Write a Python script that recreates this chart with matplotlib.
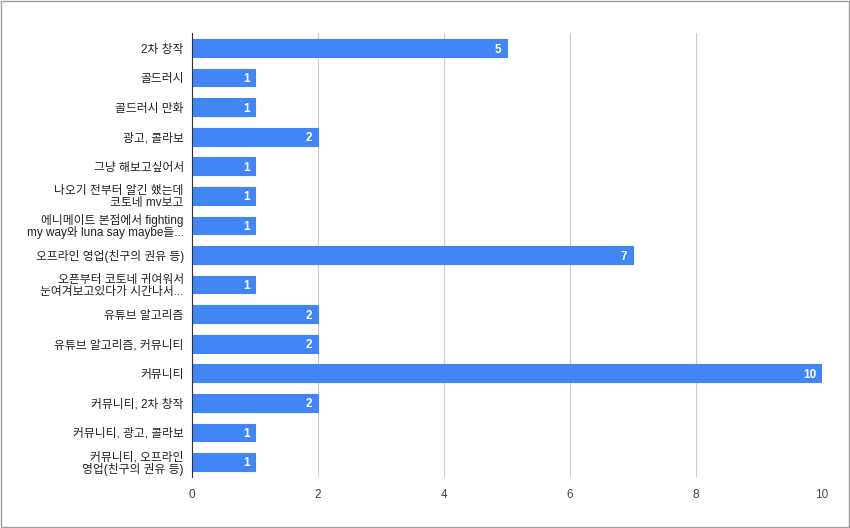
import matplotlib
matplotlib.use("Agg")
import matplotlib.pyplot as plt

plt.rcParams['font.family'] = ['Liberation Sans', 'Noto Sans CJK KR', 'DejaVu Sans']

categories = [
    "2차 창작",
    "골드러시",
    "골드러시 만화",
    "광고, 콜라보",
    "그냥 해보고싶어서",
    "나오기 전부터 알긴 했는데\n코토네 mv보고",
    "에니메이트 본점에서 fighting\nmy way와 luna say maybe들...",
    "오프라인 영업(친구의 권유 등)",
    "오픈부터 코토네 귀여워서\n눈여겨보고있다가 시간나서...",
    "유튜브 알고리즘",
    "유튜브 알고리즘, 커뮤니티",
    "커뮤니티",
    "커뮤니티, 2차 창작",
    "커뮤니티, 광고, 콜라보",
    "커뮤니티, 오프라인\n영업(친구의 권유 등)",
]
counts = [5, 1, 1, 2, 1, 1, 1, 7, 1, 2, 2, 10, 2, 1, 1]
xticks = [0, 2, 4, 6, 8, 10]

bar_color = "#4285F4"

fig = plt.figure(figsize=(8.5, 5.28), dpi=100)
ax = fig.add_axes([0.226, 0.097, 0.741, 0.84])

ypos = list(range(len(categories)))
ax.barh(ypos, counts, height=0.6, color=bar_color, edgecolor=bar_color,
        linewidth=0.8, joinstyle="round", zorder=3)

for y, v in zip(ypos, counts):
    ax.annotate(str(v), (v, y), xytext=(-4, 0), textcoords="offset points",
                ha="right", va="center_baseline", color="white", fontsize=8.5,
                fontweight="bold", zorder=4)

ax.set_yticks(ypos)
ax.set_yticklabels(categories, fontsize=8.5, color="#222222", linespacing=0.95)
ax.set_ylim(len(categories) - 0.5, -0.5)
ax.set_xlim(0, 10)
ax.set_xticks(xticks)
ax.set_xticklabels([str(t) for t in xticks], fontsize=8.5, color="#444444")
ax.tick_params(axis="both", length=0, pad=9)
ax.tick_params(axis="y", pad=6)

ax.grid(axis="x", color="#cccccc", linewidth=0.8, zorder=0)
for s in ["top", "right", "bottom"]:
    ax.spines[s].set_visible(False)
ax.spines["left"].set_color("#333333")
ax.spines["left"].set_linewidth(0.8)
ax.spines["left"].set_zorder(5)

# thin gray frame around the whole image
fig.patches.append(plt.Rectangle((0.001, 0.001), 0.998, 0.997, transform=fig.transFigure,
                                 fill=False, edgecolor="#9e9e9e", linewidth=1))

fig.savefig("out.png", dpi=100)
